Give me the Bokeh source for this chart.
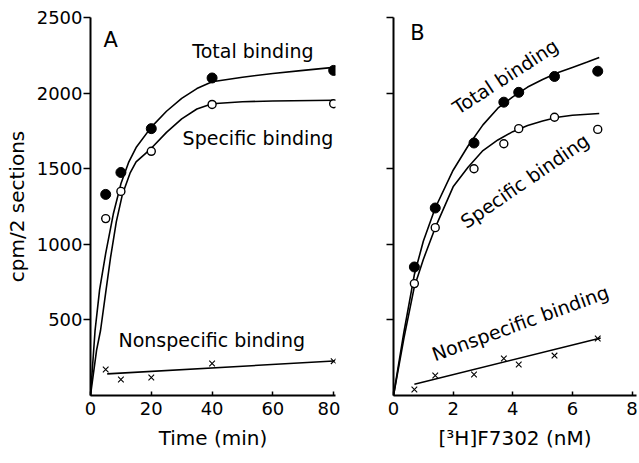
from bokeh.plotting import figure
from bokeh.layouts import row
from bokeh.models import Range1d, FixedTicker
from bokeh.core.properties import value
from bokeh.embed import file_html
from bokeh.resources import INLINE

FONT = "DejaVu Sans"

# ---------------- Panel A: time course ----------------
time_min = [5, 10, 20, 40, 80]
total_a = [1330, 1475, 1765, 2100, 2150]
specific_a = [1170, 1350, 1615, 1925, 1930]
nonspec_a = [172, 106, 119, 212, 227]

# fitted curves
total_a_curve_t = [0, 1.5, 3, 5, 7.5, 10, 12.5, 15, 20, 25, 30, 35, 40, 50, 60, 70, 80]
total_a_curve_y = [0, 430, 700, 940, 1200, 1400, 1540, 1640, 1775, 1880, 1965, 2030, 2075, 2105, 2130, 2150, 2170]
spec_a_curve_t = [0, 2, 3.3, 5, 6.6, 8.5, 10.5, 13, 15, 20, 25, 30, 35, 40, 50, 60, 80]
spec_a_curve_y = [0, 300, 430, 680, 913, 1150, 1330, 1470, 1545, 1635, 1740, 1830, 1895, 1930, 1943, 1948, 1953]
nonspec_a_line_t = [5.5, 80]
nonspec_a_line_y = [143, 228]

# ---------------- Panel B: concentration ----------------
conc_nm = [0.7, 1.4, 2.7, 3.7, 4.2, 5.4, 6.85]
total_b = [850, 1240, 1670, 1940, 2005, 2110, 2145]
specific_b = [740, 1110, 1500, 1665, 1765, 1840, 1760]
nonspec_b = [40, 132, 139, 245, 205, 264, 377]

total_b_curve_x = [0, 0.35, 0.7, 1.0, 1.4, 2.0, 2.5, 3.0, 3.5, 4.0, 4.5, 5.0, 5.5, 6.0, 6.5, 6.9]
total_b_curve_y = [0, 420, 800, 1020, 1240, 1490, 1650, 1790, 1900, 1975, 2040, 2090, 2135, 2170, 2205, 2235]
spec_b_curve_x = [0, 0.35, 0.7, 1.0, 1.4, 2.0, 2.5, 3.0, 3.5, 4.0, 4.5, 5.0, 5.5, 6.0, 6.9]
spec_b_curve_y = [0, 380, 720, 900, 1110, 1380, 1510, 1620, 1690, 1745, 1785, 1815, 1840, 1853, 1865]
nonspec_b_line_x = [0.7, 6.95]
nonspec_b_line_y = [75, 380]

y_ticks = [500, 1000, 1500, 2000, 2500]
x_ticks_a = [0, 20, 40, 60, 80]
x_ticks_b = [0, 2, 4, 6, 8]


def style(p):
    p.xgrid.visible = False
    p.ygrid.visible = False
    p.outline_line_color = None
    p.background_fill_color = "white"
    p.border_fill_color = "white"
    p.axis.axis_line_width = 2
    p.axis.axis_line_color = "black"
    p.axis.major_tick_line_width = 1.5
    p.axis.major_tick_line_color = "black"
    p.axis.minor_tick_line_color = None
    p.axis.major_label_text_font = FONT
    p.axis.major_label_text_font_size = "18px"
    p.axis.major_label_text_color = "black"
    p.axis.axis_label_text_font = FONT
    p.axis.axis_label_text_font_size = "20px"
    p.axis.axis_label_text_font_style = "normal"
    p.axis.axis_label_text_color = "black"
    p.xaxis.major_tick_in = 4
    p.xaxis.major_tick_out = 0
    p.xaxis.major_label_standoff = 6
    p.xaxis.axis_label_standoff = 8
    p.yaxis.major_tick_in = 0
    p.yaxis.major_tick_out = 7
    p.yaxis.major_label_standoff = 1
    p.yaxis.ticker = FixedTicker(ticks=y_ticks)


LW = 1.6

p1 = figure(width=340, height=463, x_range=Range1d(0, 80.6), y_range=Range1d(0, 2500),
            output_backend="svg", toolbar_location=None,
            min_border_left=90, min_border_right=5, min_border_top=17, min_border_bottom=68)
style(p1)
p1.xaxis.ticker = FixedTicker(ticks=x_ticks_a)
p1.xaxis.axis_label = "Time (min)"
p1.yaxis.axis_label = "cpm/2 sections"
p1.yaxis.axis_label_standoff = 5

p1.line(total_a_curve_t, total_a_curve_y, line_color="black", line_width=LW)
p1.line(spec_a_curve_t, spec_a_curve_y, line_color="black", line_width=LW)
p1.line(nonspec_a_line_t, nonspec_a_line_y, line_color="black", line_width=LW)
p1.scatter(time_min, total_a, marker="circle", size=10, fill_color="black", line_color="black")
p1.scatter(time_min, specific_a, marker="circle", size=8, fill_color="white", line_color="black", line_width=1.4)
p1.scatter(time_min, nonspec_a, marker="x", size=8, line_color="black", line_width=1.1)

p1.text(x=[6.6], y=[2350], text=["A"], text_font=value(FONT), text_font_size=value("21px"),
        text_align="center", text_baseline="middle", text_color="black")
p1.text(x=[33.5, 30.3, 9.2], y=[2280, 1706, 364],
        text=["Total binding", "Specific binding", "Nonspecific binding"],
        text_font=value(FONT), text_font_size=value("19px"),
        text_align="left", text_baseline="middle", text_color="black")

p2 = figure(width=299, height=463, x_range=Range1d(0, 8.15), y_range=Range1d(0, 2500),
            output_backend="svg", toolbar_location=None,
            min_border_left=53, min_border_right=3, min_border_top=17, min_border_bottom=68)
style(p2)
p2.xaxis.ticker = FixedTicker(ticks=x_ticks_b)
p2.xaxis.axis_label = "[³H]F7302 (nM)"
p2.yaxis.major_label_overrides = {t: "" for t in y_ticks}

p2.line(total_b_curve_x, total_b_curve_y, line_color="black", line_width=LW)
p2.line(spec_b_curve_x, spec_b_curve_y, line_color="black", line_width=LW)
p2.line(nonspec_b_line_x, nonspec_b_line_y, line_color="black", line_width=LW)
p2.scatter(conc_nm, total_b, marker="circle", size=10, fill_color="black", line_color="black")
p2.scatter(conc_nm, specific_b, marker="circle", size=8, fill_color="white", line_color="black", line_width=1.4)
p2.scatter(conc_nm, nonspec_b, marker="x", size=8, line_color="black", line_width=1.1)

p2.text(x=[0.8], y=[2400], text=["B"], text_font=value(FONT), text_font_size=value("21px"),
        text_align="center", text_baseline="middle", text_color="black")
p2.text(x=[3.75, 4.4, 4.25], y=[2110, 1420, 480],
        text=["Total binding", "Specific binding", "Nonspecific binding"],
        angle=[33, 34.5, 20], angle_units="deg",
        text_font=value(FONT), text_font_size=value("19px"),
        text_align="center", text_baseline="middle", text_color="black")

layout = row(p1, p2)
open("out.html", "w").write(file_html(layout, INLINE))
